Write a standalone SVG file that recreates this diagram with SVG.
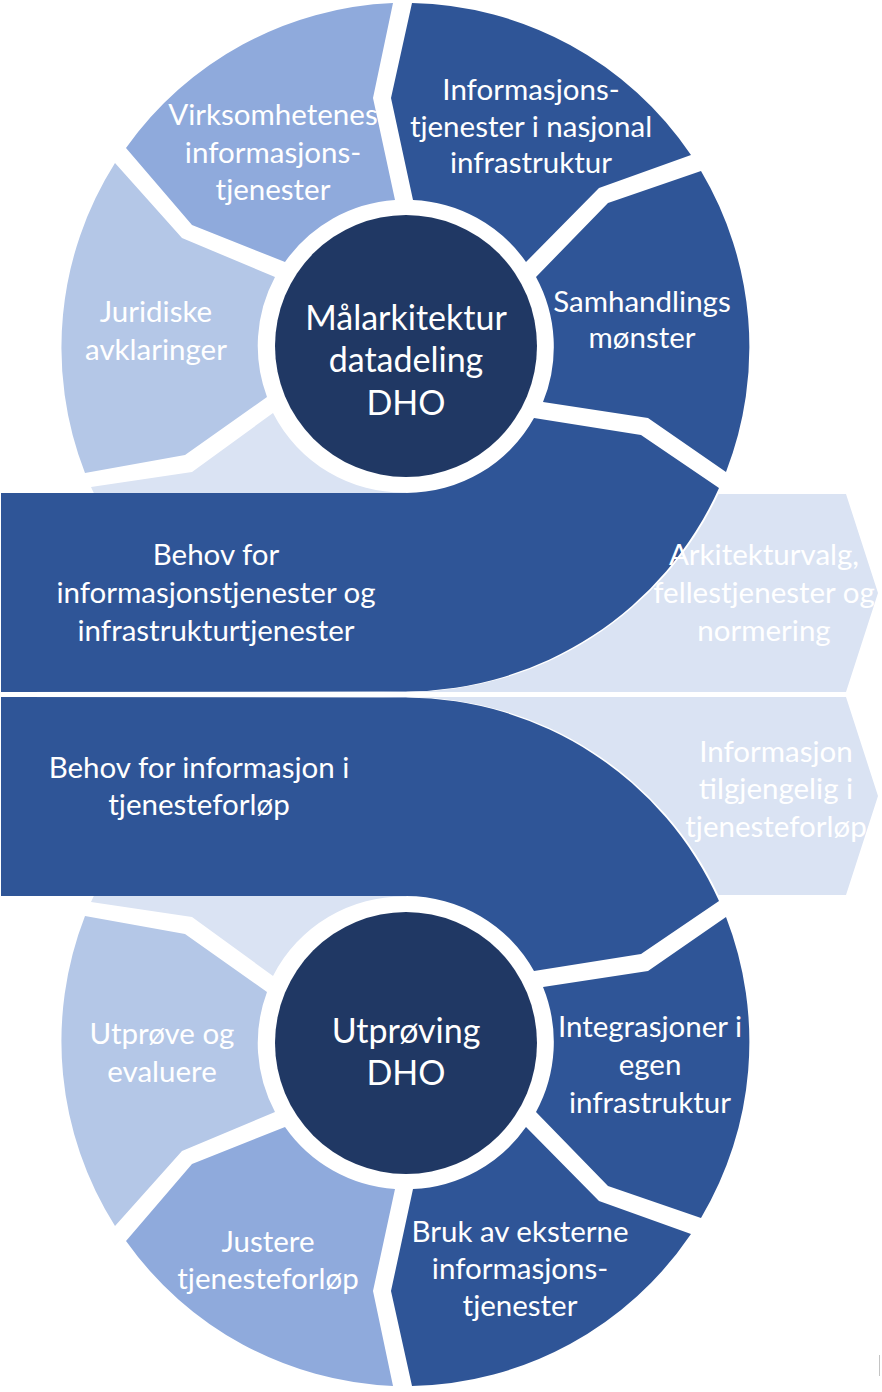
<svg xmlns="http://www.w3.org/2000/svg" width="882" height="1392" viewBox="0 0 882 1392">
  <style>
    .navy { fill: #203864; }
    .dark { fill: #2F5597; }
    .mid { fill: #8FAADC; }
    .light { fill: #B4C7E7; }
    .pale { fill: #DAE3F3; }
    text { font-family: "Lato", "Liberation Sans", sans-serif; fill: #FFFFFF; text-anchor: middle; }
    .lbl { font-size: 29.5px; }
    .hub { font-size: 34px; }
  </style>

  <!-- ===== Upper wheel ===== -->
  <g id="upper-pale-segment">
    <path class="pale" d="M91,487 L192,472 L273,413 A146,146 0 0 0 406.5,492.5 L406.5,692 A345,345 0 0 1 91,487 Z"/>
  </g>

  <g id="juridiske">
    <path class="light" d="M85,473 A345,345 0 0 1 115,163 L182,238 L275,277 A146,146 0 0 0 267,397 L185,455 Z"/>
    <text class="lbl"><tspan x="156" y="322">Juridiske</tspan><tspan x="156" y="360">avklaringer</tspan></text>
  </g>

  <g id="virksomhetenes">
    <path class="mid" d="M126,148 A345,345 0 0 1 393,3 L373,98 L395,200 A146,146 0 0 0 285,262 L192,225 Z"/>
    <text class="lbl"><tspan x="273" y="125">Virksomhetenes</tspan><tspan x="273" y="163">informasjons-</tspan><tspan x="273" y="200">tjenester</tspan></text>
  </g>

  <g id="nasjonal-infrastruktur">
    <path class="dark" d="M412,3 A345,345 0 0 1 691,155 L599,188 L526,262 A146,146 0 0 0 413,200 L391,98 Z"/>
    <text class="lbl"><tspan x="531" y="100">Informasjons-</tspan><tspan x="531" y="137">tjenester i nasjonal</tspan><tspan x="531" y="173">infrastruktur</tspan></text>
  </g>

  <g id="samhandlingsmonster">
    <path class="dark" d="M701,171 A345,345 0 0 1 726,472 L648,418 L543,402 A146,146 0 0 0 536,277 L608,203 Z"/>
    <text class="lbl"><tspan x="642" y="312">Samhandlings</tspan><tspan x="642" y="348">mønster</tspan></text>
  </g>

  <g id="behov-tjenester">
    <path class="dark" d="M719,488 A345,345 0 0 1 406.5,691.5 L1,692 L1,493 L406.5,493 A146,146 0 0 0 534,418 L641,435 Z"/>
    <text class="lbl"><tspan x="216" y="565">Behov for</tspan><tspan x="216" y="603">informasjonstjenester og</tspan><tspan x="216" y="641">infrastrukturtjenester</tspan></text>
  </g>

  <g id="arkitekturvalg">
    <path class="pale" d="M718.4,494 L846,494 L878,593 L846,692 L406.5,692 A345,345 0 0 0 718.4,494 Z"/>
    <text class="lbl"><tspan x="764" y="565">Arkitekturvalg,</tspan><tspan x="764" y="603">fellestjenester og</tspan><tspan x="764" y="641">normering</tspan></text>
  </g>

  <g id="malarkitektur">
    <circle class="navy" cx="406" cy="346" r="131"/>
    <text class="hub"><tspan x="406" y="330">Målarkitektur</tspan><tspan x="406" y="372">datadeling</tspan><tspan x="406" y="415">DHO</tspan></text>
  </g>

  <!-- ===== Lower wheel (shapes mirrored about y = 694.5) ===== -->
  <g id="lower-pale-segment">
    <path class="pale" transform="matrix(1 0 0 -1 0 1389)" d="M91,487 L192,472 L273,413 A146,146 0 0 0 406.5,492.5 L406.5,692 A345,345 0 0 1 91,487 Z"/>
  </g>

  <g id="utprove">
    <path class="light" transform="matrix(1 0 0 -1 0 1389)" d="M85,473 A345,345 0 0 1 115,163 L182,238 L275,277 A146,146 0 0 0 267,397 L185,455 Z"/>
    <text class="lbl"><tspan x="162" y="1044">Utprøve og</tspan><tspan x="162" y="1082">evaluere</tspan></text>
  </g>

  <g id="justere">
    <path class="mid" transform="matrix(1 0 0 -1 0 1389)" d="M126,148 A345,345 0 0 1 393,3 L373,98 L395,200 A146,146 0 0 0 285,262 L192,225 Z"/>
    <text class="lbl"><tspan x="268" y="1252">Justere</tspan><tspan x="268" y="1289">tjenesteforløp</tspan></text>
  </g>

  <g id="eksterne-tjenester">
    <path class="dark" transform="matrix(1 0 0 -1 0 1389)" d="M412,3 A345,345 0 0 1 691,155 L599,188 L526,262 A146,146 0 0 0 413,200 L391,98 Z"/>
    <text class="lbl"><tspan x="520" y="1242">Bruk av eksterne</tspan><tspan x="520" y="1279">informasjons-</tspan><tspan x="520" y="1316">tjenester</tspan></text>
  </g>

  <g id="integrasjoner">
    <path class="dark" transform="matrix(1 0 0 -1 0 1389)" d="M701,171 A345,345 0 0 1 726,472 L648,418 L543,402 A146,146 0 0 0 536,277 L608,203 Z"/>
    <text class="lbl"><tspan x="650" y="1037">Integrasjoner i</tspan><tspan x="650" y="1075">egen</tspan><tspan x="650" y="1113">infrastruktur</tspan></text>
  </g>

  <g id="behov-informasjon">
    <path class="dark" transform="matrix(1 0 0 -1 0 1389)" d="M719,488 A345,345 0 0 1 406.5,691.5 L1,692 L1,493 L406.5,493 A146,146 0 0 0 534,418 L641,435 Z"/>
    <text class="lbl"><tspan x="199" y="778">Behov for informasjon i</tspan><tspan x="199" y="815">tjenesteforløp</tspan></text>
  </g>

  <g id="informasjon-tilgjengelig">
    <path class="pale" transform="matrix(1 0 0 -1 0 1389)" d="M718.4,494 L846,494 L878,593 L846,692 L406.5,692 A345,345 0 0 0 718.4,494 Z"/>
    <text class="lbl"><tspan x="776" y="762">Informasjon</tspan><tspan x="776" y="799">tilgjengelig i</tspan><tspan x="776" y="837">tjenesteforløp</tspan></text>
  </g>

  <g id="utproving">
    <circle class="navy" cx="406" cy="1043" r="131"/>
    <text class="hub"><tspan x="406" y="1043">Utprøving</tspan><tspan x="406" y="1085">DHO</tspan></text>
  </g>

  <!-- stray hairline at the lower right edge -->
  <line x1="879.5" y1="1355" x2="879.5" y2="1376" stroke="#C4C4C4" stroke-width="1"/>
</svg>
